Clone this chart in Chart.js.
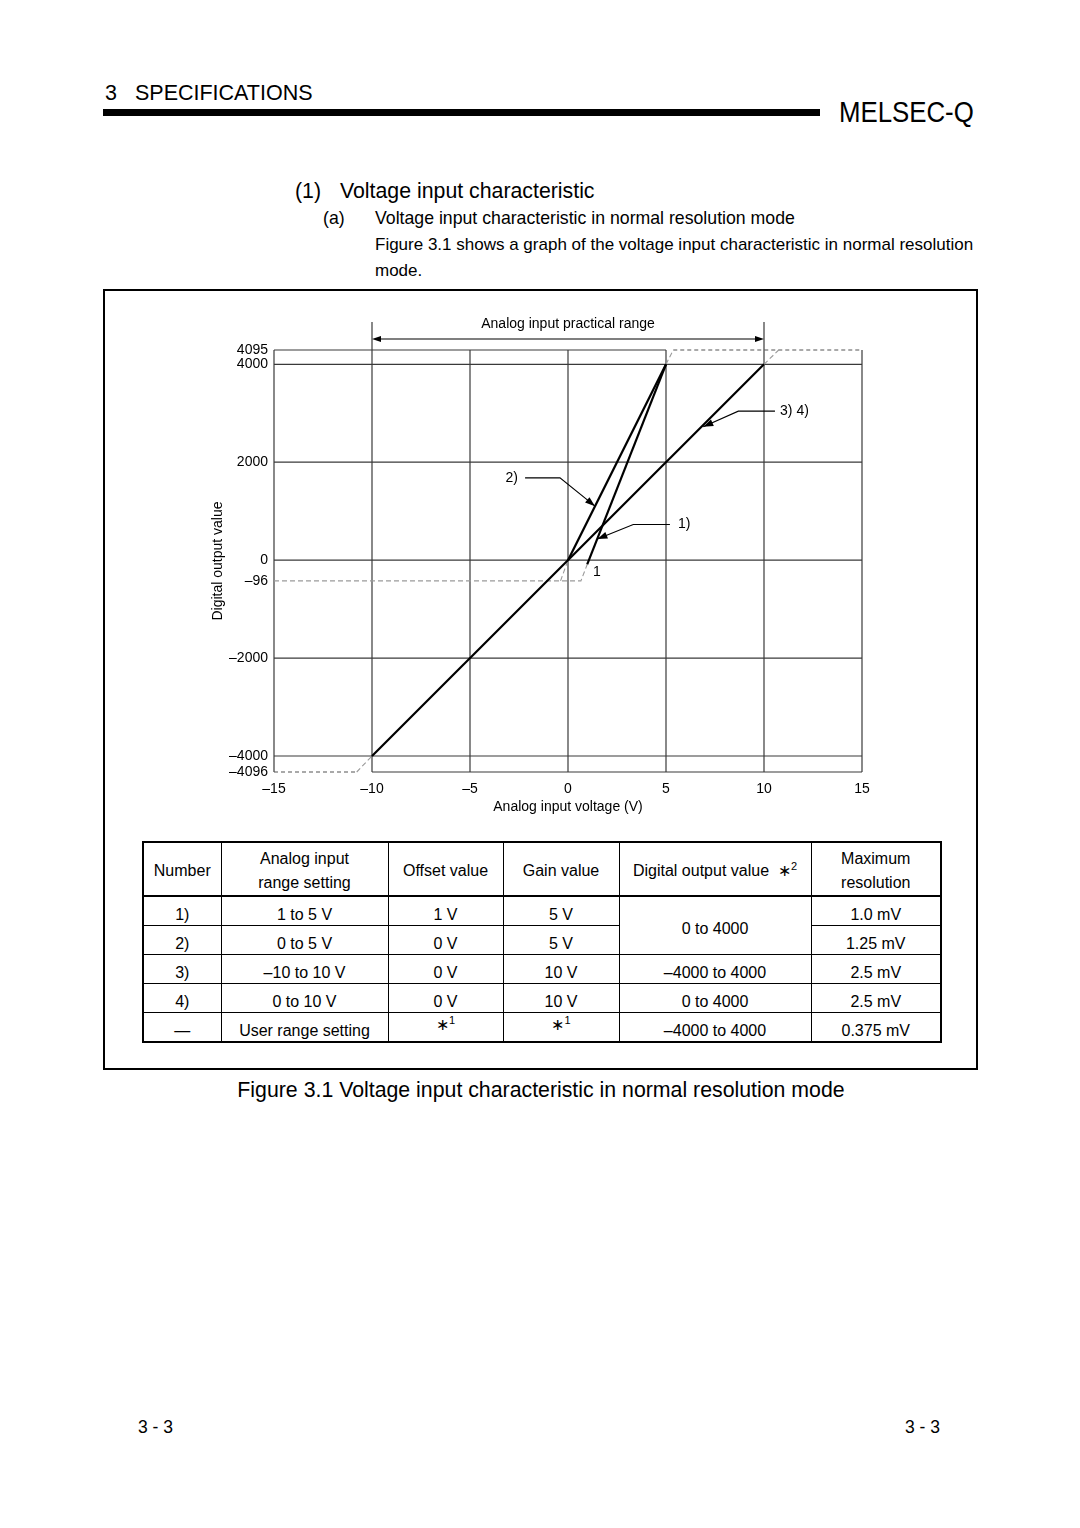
<!DOCTYPE html>
<html>
<head>
<meta charset="utf-8">
<script src="https://cdn.jsdelivr.net/npm/chart.js@4.4.1/dist/chart.umd.min.js"></script>
<style>
  html, body { margin: 0; padding: 0; background: #fff; }
  body { width: 1080px; height: 1528px; position: relative; overflow: hidden;
         font-family: "Liberation Sans", Arial, sans-serif; color: #000; }
  .t { position: absolute; line-height: 1; white-space: nowrap; }
  .bar { position: absolute; left: 103px; top: 109px; width: 717px; height: 7px; background: #000; }
  .box { position: absolute; left: 103px; top: 289px; width: 875px; height: 781px;
         border: 2px solid #000; box-sizing: border-box; }
  #chart { position: absolute; left: 200px; top: 300px; }
  table { position: absolute; left: 142px; top: 841px; border-collapse: collapse;
          border: 2px solid #000; font-size: 16px; }
  th, td { border: 1px solid #000; text-align: center; padding: 0; font-weight: normal; }
  th { height: 48px; padding-top: 4px; line-height: 24px; border-bottom: 2px solid #000; }
  td { height: 21px; padding-top: 7px; line-height: 20px; }
  sup { font-size: 11px; vertical-align: 6px; line-height: 0; }
  .ast { position: relative; top: -6px; }
</style>
</head>
<body>
<div class="t" style="left:105px;top:83px;font-size:21.5px">3<span style="margin-left:18px">SPECIFICATIONS</span></div>
<div class="bar"></div>
<div class="t" style="left:839px;top:97px;font-size:30px;transform:scaleX(0.86);transform-origin:0 0">MELSEC-Q</div>

<div class="t" style="left:295px;top:181px;font-size:21.3px">(1)</div>
<div class="t" style="left:340px;top:181px;font-size:21.3px">Voltage input characteristic</div>
<div class="t" style="left:323px;top:210px;font-size:17.7px">(a)</div>
<div class="t" style="left:375px;top:210px;font-size:17.7px">Voltage input characteristic in normal resolution mode</div>
<div class="t" style="left:375px;top:236px;font-size:17px">Figure 3.1 shows a graph of the voltage input characteristic in normal resolution</div>
<div class="t" style="left:375px;top:262px;font-size:17px">mode.</div>

<div class="box"></div>
<canvas id="chart" width="700" height="530"></canvas>

<table>
  <colgroup>
    <col style="width:78px"><col style="width:167px"><col style="width:115px">
    <col style="width:116px"><col style="width:192px"><col style="width:130px">
  </colgroup>
  <tr>
    <th>Number</th>
    <th>Analog input<br>range setting</th>
    <th>Offset value</th>
    <th>Gain value</th>
    <th>Digital output value &nbsp;&#8727;<sup>2</sup></th>
    <th>Maximum<br>resolution</th>
  </tr>
  <tr><td>1)</td><td>1 to 5 V</td><td>1 V</td><td>5 V</td><td rowspan="2">0 to 4000</td><td>1.0 mV</td></tr>
  <tr><td>2)</td><td>0 to 5 V</td><td>0 V</td><td>5 V</td><td>1.25 mV</td></tr>
  <tr><td>3)</td><td>&#8211;10 to 10 V</td><td>0 V</td><td>10 V</td><td>&#8211;4000 to 4000</td><td>2.5 mV</td></tr>
  <tr><td>4)</td><td>0 to 10 V</td><td>0 V</td><td>10 V</td><td>0 to 4000</td><td>2.5 mV</td></tr>
  <tr><td>&#8212;</td><td>User range setting</td><td><span class="ast">&#8727;<sup>1</sup></span></td><td><span class="ast">&#8727;<sup>1</sup></span></td><td>&#8211;4000 to 4000</td><td>0.375 mV</td></tr>
</table>

<div class="t" style="left:0;width:1082px;text-align:center;top:1080px;font-size:21.3px">Figure 3.1 Voltage input characteristic in normal resolution mode</div>
<div class="t" style="left:138px;top:1419px;font-size:17.5px">3 - 3</div>
<div class="t" style="left:905px;top:1419px;font-size:17.5px">3 - 3</div>

<script>
const FONT = '"Liberation Sans", Arial, sans-serif';
const GRID = '#3a3a3a';
const FAINT = '#9a9a9a';

// axes
const xTicks = [-15, -10, -5, 0, 5, 10, 15];
const yTicks = [-4096, -4000, -2000, -96, 0, 2000, 4000, 4095];
const xGridLines = [-10, -5, 0, 5, 10];
const yGridLines = [-4000, -2000, 0, 2000, 4000];
const practicalRange = [-10, 10];

// the figure is schematic: 4095, -96 and -4096 are drawn further out than to scale
const yRawKnots = [-4096, -4000, -2000, -96, 0, 4000, 4095];
const yDrawnKnots = [-4327, -4000, -2000, -423, 0, 4000, 4292];

// characteristic lines (voltage, digital output)
const line34V = [-10, 10];
const line34Out = [-4000, 4000];
const line2V = [0, 5];
const line2Out = [0, 4000];
const line1V = [0.98, 5];
const line1Out = [-20, 4000];

// clamped / out-of-range parts (dashed)
const low1V = [-15, 0.66, 0.98];
const low1Out = [-96, -96, -20];
const low2V = [-0.38, 0];
const low2Out = [-96, 0];
const high12V = [5, 5.37];
const high12Out = [4000, 4095];
const high34V = [10, 10.75];
const high34Out = [4000, 4095];
const low3V = [-10.78, -10];
const low3Out = [-4096, -4000];

// frame: solid / dashed spans of the top (4095) and bottom (-4096) edges
const topSolid = [-15, 5];
const topDashed = [5.37, 15];
const bottomDashed = [-15, -10.78];
const bottomSolid = [-10, 15];

function drawnY(v) {
  const k = yRawKnots, d = yDrawnKnots;
  let i = 0;
  while (i < k.length - 2 && v > k[i + 1]) i++;
  return d[i] + (v - k[i]) * (d[i + 1] - d[i]) / (k[i + 1] - k[i]);
}

function dash(v) {
  return v < 0 ? '\u2013' + (-v) : String(v);
}

function series(xs, ys, style) {
  return Object.assign({
    data: xs.map(function (v, i) { return { x: v, y: drawnY(ys[i]) }; }),
    showLine: true, pointRadius: 0, tension: 0, clip: false, fill: false,
  }, style);
}

const SOLID = { borderColor: '#000', borderWidth: 2.2, order: 0 };
const DASHED = { borderColor: FAINT, borderWidth: 1.1, borderDash: [5, 3], order: 1 };

// leader annotations (voltage, raw output)
const leaders = [
  { text: '3) 4)', at: [10.82, 3043], align: 'left', path: [[10.56, 3043], [8.69, 3043], [6.9, 2723]] },
  { text: '2)', at: [-2.55, 1681], align: 'right', path: [[-2.19, 1681], [-0.41, 1681], [1.38, 1103]] },
  { text: '1)', at: [5.61, 729], align: 'left', path: [[5.2, 729], [3.33, 729], [1.5, 430]] },
  { text: '1', at: [1.28, -54], align: 'left', path: [] },
];

function seg(ctx, x1, y1, x2, y2) {
  ctx.beginPath();
  ctx.moveTo(x1, y1);
  ctx.lineTo(x2, y2);
  ctx.stroke();
}

function head(ctx, fx, fy, tx, ty, len, half) {
  const a = Math.atan2(ty - fy, tx - fx);
  const bx = tx - len * Math.cos(a), by = ty - len * Math.sin(a);
  ctx.beginPath();
  ctx.moveTo(tx, ty);
  ctx.lineTo(bx + half * Math.sin(a), by - half * Math.cos(a));
  ctx.lineTo(bx - half * Math.sin(a), by + half * Math.cos(a));
  ctx.closePath();
  ctx.fill();
}

const sketch = {
  id: 'sketch',
  beforeDatasetsDraw(chart) {
    const { ctx, scales: { x, y } } = chart;
    const px = function (v) { return x.getPixelForValue(v); };
    const py = function (v) { return y.getPixelForValue(drawnY(v)); };
    const top = py(4095), bottom = py(-4096), left = px(-15), right = px(15);
    ctx.save();
    ctx.strokeStyle = GRID;
    ctx.lineWidth = 1.2;
    xGridLines.forEach(function (v) { seg(ctx, px(v), top, px(v), bottom); });
    yGridLines.forEach(function (v) { seg(ctx, left, py(v), right, py(v)); });
    seg(ctx, left, top, left, bottom);
    seg(ctx, right, top, right, bottom);
    seg(ctx, px(topSolid[0]), top, px(topSolid[1]), top);
    seg(ctx, px(bottomSolid[0]), bottom, px(bottomSolid[1]), bottom);
    ctx.strokeStyle = '#555';
    ctx.lineWidth = 1.1;
    ctx.setLineDash([4, 3]);
    seg(ctx, px(topDashed[0]), top, px(topDashed[1]), top);
    seg(ctx, px(bottomDashed[0]), bottom, px(bottomDashed[1]), bottom);
    ctx.restore();
  },
  afterDatasetsDraw(chart) {
    const { ctx, chartArea: area, scales: { x, y } } = chart;
    const px = function (v) { return x.getPixelForValue(v); };
    const py = function (v) { return y.getPixelForValue(drawnY(v)); };
    ctx.save();
    // practical range bracket
    const xl = px(practicalRange[0]), xr = px(practicalRange[1]);
    const ay = area.top - 11;
    ctx.strokeStyle = GRID;
    ctx.lineWidth = 1.2;
    seg(ctx, xl, area.top - 28, xl, area.top);
    seg(ctx, xr, area.top - 28, xr, area.top);
    ctx.strokeStyle = '#000';
    ctx.fillStyle = '#000';
    ctx.lineWidth = 1.1;
    seg(ctx, xl + 4, ay, xr - 4, ay);
    head(ctx, xr, ay, xl, ay, 9, 3);
    head(ctx, xl, ay, xr, ay, 9, 3);
    ctx.font = '14px ' + FONT;
    ctx.textAlign = 'center';
    ctx.textBaseline = 'middle';
    ctx.fillText('Analog input practical range', (xl + xr) / 2, area.top - 26);
    // leaders
    leaders.forEach(function (l) {
      const pts = l.path.map(function (p) { return [px(p[0]), py(p[1])]; });
      if (pts.length) {
        ctx.beginPath();
        ctx.moveTo(pts[0][0], pts[0][1]);
        pts.slice(1).forEach(function (p) { ctx.lineTo(p[0], p[1]); });
        ctx.stroke();
        const n = pts.length;
        head(ctx, pts[n - 2][0], pts[n - 2][1], pts[n - 1][0], pts[n - 1][1], 10, 3.5);
      }
      ctx.textAlign = l.align;
      ctx.fillText(l.text, px(l.at[0]), py(l.at[1]));
    });
    ctx.restore();
  },
};

Chart.defaults.font.family = FONT;
Chart.defaults.font.size = 14;
Chart.defaults.color = '#000';

new Chart(document.getElementById('chart'), {
  type: 'scatter',
  data: {
    datasets: [
      series(line34V, line34Out, SOLID),
      series(line2V, line2Out, SOLID),
      series(line1V, line1Out, SOLID),
      series(low1V, low1Out, DASHED),
      series(low2V, low2Out, DASHED),
      series(high12V, high12Out, DASHED),
      series(high34V, high34Out, DASHED),
      series(low3V, low3Out, DASHED),
    ],
  },
  options: {
    responsive: false,
    animation: false,
    events: [],
    layout: { padding: { top: 50, right: 38, left: 0, bottom: 0 } },
    plugins: { legend: { display: false }, tooltip: { enabled: false } },
    scales: {
      x: {
        type: 'linear',
        min: -15,
        max: 15,
        grid: { display: false, drawTicks: false },
        border: { display: false },
        afterBuildTicks: function (s) { s.ticks = xTicks.map(function (v) { return { value: v }; }); },
        afterFit: function (s) { s.height = 58; },
        ticks: { padding: 9, autoSkip: false, maxRotation: 0, callback: function (v) { return dash(v); } },
        title: { display: true, text: 'Analog input voltage (V)', padding: { top: 0, bottom: 14 } },
      },
      y: {
        type: 'linear',
        min: drawnY(-4096),
        max: drawnY(4095),
        grid: { display: false, drawTicks: false },
        border: { display: false },
        afterBuildTicks: function (s) { s.ticks = yTicks.map(function (v) { return { value: drawnY(v) }; }); },
        afterFit: function (s) { s.width = 74; },
        ticks: { padding: 6, autoSkip: false, callback: function (v, i) { return dash(yTicks[i]); } },
        title: { display: true, text: 'Digital output value', padding: { top: 10, bottom: 0 } },
      },
    },
  },
  plugins: [sketch],
});
</script>
</body>
</html>
